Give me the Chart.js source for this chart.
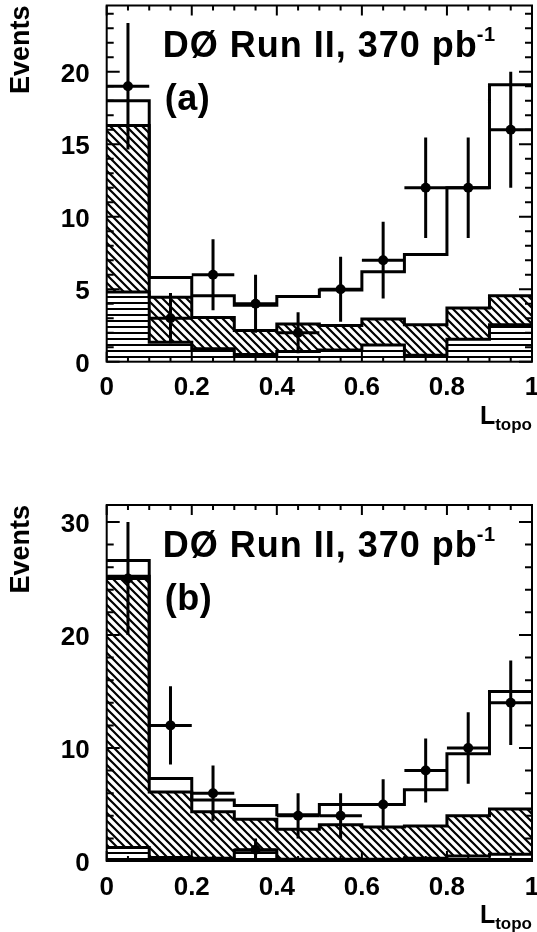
<!DOCTYPE html>
<html>
<head>
<meta charset="utf-8">
<title>L_topo distributions</title>
<script src="https://cdn.jsdelivr.net/npm/chart.js@4.4.0/dist/chart.umd.min.js"></script>
<style>
  body { margin: 0; background: #fff; }
  .pad { width: 537px; height: 466px; }
  canvas { display: block; }
</style>
</head>
<body>
<div class="pad"><canvas id="chartA" width="537" height="466"></canvas></div>
<div class="pad"><canvas id="chartB" width="537" height="466"></canvas></div>
<script>
// bin edges of L_topo
const binEdges = [0, 0.1, 0.2, 0.3, 0.4, 0.5, 0.6, 0.7, 0.8, 0.9, 1.0];

// panel (a)
const dataA  = [19, 3, 6, 4, 2, 5, 7, 12, 12, 16];
const totalA = [18, 5.8, 4.55, 3.9, 4.5, 4.95, 6.2, 7.4, 12, 19.1];
const diagA  = [16.3, 4.45, 3.05, 2.15, 2.6, 2.5, 2.95, 2.55, 3.7, 4.55];
const horzA  = [4.8, 1.35, 0.9, 0.5, 0.7, 0.8, 1.15, 0.45, 1.55, 2.55];

// panel (b)
const dataB  = [25, 12, 6, 1, 4, 4, 5, 8, 10, 14];
const totalB = [26.6, 7.3, 5.4, 4.9, 4.1, 5.0, 5.0, 6.3, 9.5, 15.0];
const diagB  = [25.2, 6.1, 4.35, 3.7, 2.8, 3.2, 3.0, 3.1, 4.0, 4.6];
const horzB  = [1.2, 0.3, 0.25, 0.95, 0.15, 0.15, 0.15, 0.25, 0.45, 0.6];

const yTicksA = { step: 5, minor: 1 };
const yTicksB = { step: 10, minor: 2 };

const FONT = '"Liberation Sans", Arial, Helvetica, sans-serif';

const steps = vals => binEdges.map((x, i) => ({ x: x, y: vals[Math.min(i, vals.length - 1)] }));
const centres = vals => vals.map((y, i) => ({ x: (binEdges[i] + binEdges[i + 1]) / 2, y: y }));

function hatch(ctx, kind) {
    const c = document.createElement('canvas');
    const g = c.getContext('2d');
    g.strokeStyle = '#000';
    g.fillStyle = '#000';
    if (kind === 'h') {
        c.width = 6; c.height = 6;
        g.fillRect(0, 2, 6, 2);
    } else {
        c.width = 8; c.height = 8;
        g.lineWidth = 2.2;
        g.beginPath();
        g.moveTo(-1, -1); g.lineTo(9, 9);
        g.moveTo(-1, 7); g.lineTo(1, 9);
        g.moveTo(7, -1); g.lineTo(9, 1);
        g.stroke();
    }
    return ctx.createPattern(c, 'repeat');
}

const rootStyle = {
    id: 'rootStyle',
    beforeDatasetDraw(chart, args, opts) {
        if (args.index !== 0) return;
        const ctx = chart.ctx, xs = chart.scales.x, ys = chart.scales.y;
        ctx.save();
        ctx.strokeStyle = '#000';
        ctx.lineWidth = 3;
        opts.data.forEach((n, i) => {
            const lo = binEdges[i], hi = binEdges[i + 1];
            const xc = xs.getPixelForValue((lo + hi) / 2);
            const err = Math.sqrt(n);
            ctx.beginPath();
            ctx.moveTo(xc, ys.getPixelForValue(Math.max(0, n - err)));
            ctx.lineTo(xc, ys.getPixelForValue(n + err));
            ctx.moveTo(xs.getPixelForValue(lo), ys.getPixelForValue(n));
            ctx.lineTo(xs.getPixelForValue(hi), ys.getPixelForValue(n));
            ctx.stroke();
        });
        ctx.restore();
    },
    afterDraw(chart, args, opts) {
        const ctx = chart.ctx, a = chart.chartArea;
        const xs = chart.scales.x, ys = chart.scales.y;
        ctx.save();
        ctx.strokeStyle = '#000';
        ctx.fillStyle = '#000';
        ctx.lineWidth = 2;
        ctx.strokeRect(a.left, a.top, a.right - a.left, a.bottom - a.top);

        // inward ticks, ROOT style
        ctx.beginPath();
        for (let k = 0; k <= 20; k++) {
            const px = xs.getPixelForValue(k * 0.05);
            const len = k % 4 === 0 ? 10 : 5;
            ctx.moveTo(px, a.bottom); ctx.lineTo(px, a.bottom - len);
            ctx.moveTo(px, a.top); ctx.lineTo(px, a.top + len);
        }
        for (let v = 0; v <= ys.max; v += opts.yt.minor) {
            const py = ys.getPixelForValue(v);
            const len = v % opts.yt.step === 0 ? 13 : 7;
            ctx.moveTo(a.left, py); ctx.lineTo(a.left + len, py);
            ctx.moveTo(a.right, py); ctx.lineTo(a.right - len, py);
        }
        ctx.stroke();

        // experiment label
        const tx = a.left + 56, ty = a.top + 51.5;
        const txt = 'DØ Run II, 370 pb';
        ctx.textAlign = 'left';
        ctx.textBaseline = 'alphabetic';
        ctx.font = 'bold 36px ' + FONT;
        ctx.letterSpacing = '1px';
        ctx.fillText(txt, tx, ty);
        const w = ctx.measureText(txt).width;
        ctx.letterSpacing = '0.5px';
        ctx.fillText(opts.tag, tx + 2, a.top + 104.5);
        ctx.font = 'bold 20px ' + FONT;
        ctx.fillText('-1', tx + w - 1, ty - 16);
        ctx.letterSpacing = '0px';

        // x axis title L_topo
        ctx.textAlign = 'right';
        ctx.font = 'bold 17px ' + FONT;
        ctx.fillText('topo', a.right, a.bottom + 68);
        const sw = ctx.measureText('topo').width;
        ctx.font = 'bold 25px ' + FONT;
        ctx.fillText('L', a.right - sw, a.bottom + 62);
        ctx.restore();
    }
};

function makePanel(id, p) {
    const ctx = document.getElementById(id).getContext('2d');
    return new Chart(ctx, {
        type: 'line',
        data: {
            datasets: [{
                data: centres(p.data),
                showLine: false,
                pointRadius: 5,
                pointBackgroundColor: '#000',
                pointBorderWidth: 0
            }, {
                data: steps(p.total),
                stepped: true,
                borderColor: '#000',
                borderWidth: 3,
                pointRadius: 0,
                fill: false
            }, {
                data: steps(p.diag),
                stepped: true,
                borderColor: '#000',
                borderWidth: 3,
                pointRadius: 0,
                fill: { target: 3 },
                backgroundColor: hatch(ctx, 'd')
            }, {
                data: steps(p.horz),
                stepped: true,
                borderColor: '#000',
                borderWidth: 3,
                pointRadius: 0,
                fill: 'origin',
                backgroundColor: hatch(ctx, 'h')
            }]
        },
        options: {
            responsive: false,
            animation: false,
            devicePixelRatio: 1,
            layout: { padding: { top: p.top, right: 4, left: 0, bottom: 0 } },
            plugins: {
                legend: { display: false },
                tooltip: { enabled: false },
                rootStyle: { data: p.data, tag: p.tag, yt: p.yt }
            },
            scales: {
                x: {
                    type: 'linear',
                    min: 0,
                    max: 1,
                    grid: { display: false },
                    border: { display: false },
                    ticks: {
                        stepSize: 0.2,
                        padding: 3,
                        maxRotation: 0,
                        includeBounds: false,
                        color: '#000',
                        font: { family: FONT, size: 26, weight: 'bold' },
                        callback: v => String(Math.round(v * 10) / 10)
                    },
                    afterFit: s => { s.height = p.xh; s.paddingLeft = 0; s.paddingRight = 0; }
                },
                y: {
                    type: 'linear',
                    min: 0,
                    max: p.ymax,
                    grid: { display: false },
                    border: { display: false },
                    ticks: {
                        stepSize: p.yt.step,
                        padding: 9,
                        labelOffset: 3,
                        includeBounds: false,
                        color: '#000',
                        font: { family: FONT, size: 26, weight: 'bold' }
                    },
                    title: {
                        display: true,
                        text: 'Events',
                        align: 'end',
                        color: '#000',
                        padding: { top: 5, bottom: 0 },
                        font: { family: FONT, size: 27, weight: 'bold' }
                    },
                    afterFit: s => { s.width = 106.7; s.paddingTop = 0; s.paddingBottom = 0; }
                }
            }
        },
        plugins: [rootStyle]
    });
}

makePanel('chartA', { data: dataA, total: totalA, diag: diagA, horz: horzA, ymax: 24.57, top: 5.5, xh: 104.3, tag: '(a)', yt: yTicksA });
makePanel('chartB', { data: dataB, total: totalB, diag: diagB, horz: horzB, ymax: 31.5, top: 39, xh: 71, tag: '(b)', yt: yTicksB });
</script>
</body>
</html>
